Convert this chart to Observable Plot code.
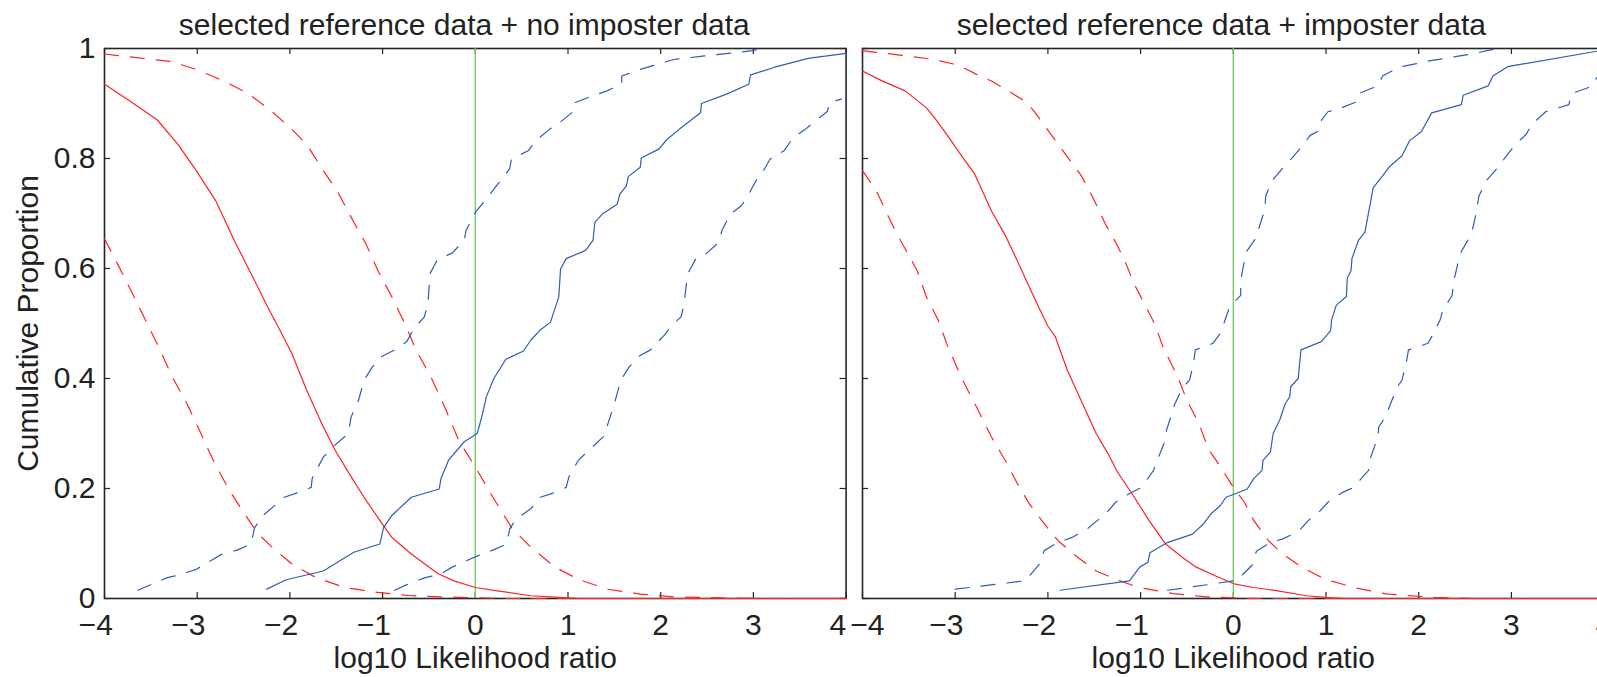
<!DOCTYPE html>
<html><head><meta charset="utf-8">
<script src="https://cdn.jsdelivr.net/npm/d3@7"></script>
<script src="https://cdn.jsdelivr.net/npm/@observablehq/plot@0.6"></script>
<style>
html,body{margin:0;padding:0;background:#fff;overflow:hidden;width:1597px;height:677px}
#wrap{position:relative;width:1597px;height:677px;overflow:hidden}
#wrap svg{position:absolute;top:0}
</style></head><body><div id="wrap"></div>
<script>
// ---- labels & ticks ----
const titles = ["selected reference data + no imposter data", "selected reference data + imposter data"];
const xLabel = "log10 Likelihood ratio";
const yLabel = "Cumulative Proportion";
const xTicks = [-4, -3, -2, -1, 0, 1, 2, 3, 4];
const xTickLabels = ["\u22124", "\u22123", "\u22122", "\u22121", "0", "1", "2", "3", "4"];
const yTicks = [0, 0.2, 0.4, 0.6, 0.8, 1];
const yTickLabels = ["0", "0.2", "0.4", "0.6", "0.8", "1"];
const threshold = [0];

// ---- left panel: no imposter data ----
const nRedSolid = [[-4,0.935],[-3.73,0.905],[-3.43,0.87],[-3.21,0.826],[-3.01,0.778],[-2.80,0.723],[-2.60,0.651],[-2.39,0.581],[-2.24,0.53],[-2.13,0.495],[-1.98,0.446],[-1.82,0.379],[-1.64,0.312],[-1.51,0.269],[-1.36,0.227],[-1.20,0.184],[-1.03,0.142],[-0.90,0.111],[-0.69,0.081],[-0.41,0.046],[-0.23,0.032],[0.0,0.020],[0.24,0.014],[0.60,0.005],[0.91,0.002],[1.11,0],[4,0]];
const nRedDashHi = [[-4,0.99],[-3.63,0.983],[-3.27,0.976],[-3.01,0.962],[-2.70,0.94],[-2.44,0.917],[-2.19,0.885],[-1.98,0.853],[-1.82,0.826],[-1.64,0.778],[-1.49,0.741],[-1.31,0.684],[-1.18,0.645],[-1.05,0.596],[-0.90,0.548],[-0.76,0.5],[-0.64,0.452],[-0.48,0.403],[-0.33,0.348],[-0.18,0.288],[0.0,0.239],[0.19,0.184],[0.39,0.129],[0.60,0.093],[0.86,0.057],[1.11,0.035],[1.42,0.017],[1.78,0.008],[2.14,0.003],[2.66,0.001],[3,0],[4,0]];
const nRedDashLo = [[-4,0.654],[-3.84,0.602],[-3.68,0.548],[-3.54,0.5],[-3.40,0.452],[-3.27,0.403],[-3.11,0.354],[-2.96,0.30],[-2.81,0.245],[-2.65,0.196],[-2.49,0.154],[-2.34,0.117],[-2.19,0.093],[-1.98,0.063],[-1.72,0.038],[-1.41,0.020],[-1.05,0.011],[-0.69,0.005],[-0.18,0.002],[0.3,0],[4,0]];
const nBlueSolid = [[-2.25,0.017],[-2.04,0.034],[-1.64,0.050],[-1.31,0.084],[-1.03,0.099],[-0.99,0.129],[-0.90,0.151],[-0.69,0.184],[-0.39,0.199],[-0.37,0.218],[-0.29,0.251],[-0.12,0.285],[0.02,0.300],[0.07,0.330],[0.12,0.367],[0.20,0.400],[0.33,0.435],[0.52,0.450],[0.60,0.470],[0.70,0.488],[0.81,0.502],[0.90,0.548],[0.92,0.599],[0.98,0.618],[1.19,0.633],[1.27,0.651],[1.29,0.684],[1.37,0.699],[1.53,0.717],[1.56,0.735],[1.63,0.750],[1.65,0.767],[1.78,0.784],[1.79,0.801],[1.98,0.817],[2.07,0.835],[2.20,0.853],[2.43,0.883],[2.44,0.900],[2.71,0.917],[2.95,0.935],[2.97,0.952],[3.23,0.966],[3.59,0.982],[4,0.991]];
const nBlueDashLo = [[-3.64,0.015],[-3.32,0.038],[-3.19,0.043],[-3.01,0.053],[-2.73,0.081],[-2.57,0.088],[-2.42,0.099],[-2.38,0.129],[-2.29,0.151],[-2.06,0.184],[-1.92,0.192],[-1.77,0.202],[-1.76,0.218],[-1.64,0.257],[-1.52,0.278],[-1.37,0.300],[-1.34,0.330],[-1.26,0.360],[-1.20,0.397],[-1.11,0.421],[-1.01,0.440],[-0.87,0.452],[-0.74,0.467],[-0.66,0.491],[-0.55,0.512],[-0.51,0.536],[-0.49,0.590],[-0.41,0.616],[-0.25,0.628],[-0.12,0.651],[-0.10,0.669],[0.0,0.702],[0.16,0.735],[0.24,0.753],[0.37,0.781],[0.39,0.799],[0.57,0.814],[0.65,0.832],[0.80,0.853],[0.93,0.868],[1.04,0.883],[1.05,0.900],[1.27,0.914],[1.42,0.923],[1.58,0.935],[1.58,0.950],[1.78,0.962],[2.14,0.980],[2.45,0.986],[2.99,0.996],[3.07,1.0]];
const nBlueDashHi = [[-0.87,0.015],[-0.69,0.029],[-0.54,0.038],[-0.38,0.044],[-0.25,0.057],[-0.12,0.067],[0.03,0.078],[0.19,0.088],[0.34,0.099],[0.37,0.126],[0.44,0.145],[0.60,0.163],[0.70,0.184],[0.83,0.191],[0.98,0.202],[1.01,0.221],[1.11,0.251],[1.24,0.272],[1.40,0.297],[1.42,0.312],[1.50,0.354],[1.57,0.397],[1.66,0.421],[1.76,0.440],[1.89,0.452],[2.04,0.479],[2.11,0.495],[2.22,0.512],[2.25,0.533],[2.29,0.590],[2.38,0.618],[2.49,0.627],[2.63,0.648],[2.66,0.669],[2.75,0.699],[2.87,0.714],[2.94,0.732],[3.02,0.757],[3.12,0.781],[3.18,0.799],[3.33,0.814],[3.43,0.838],[3.56,0.853],[3.69,0.871],[3.80,0.886],[3.82,0.902],[3.95,0.908]];

// ---- right panel: imposter data ----
const iRedSolid = [[-4,0.959],[-3.80,0.942],[-3.54,0.923],[-3.31,0.892],[-3.21,0.871],[-3.08,0.841],[-2.92,0.802],[-2.79,0.772],[-2.61,0.705],[-2.45,0.657],[-2.33,0.614],[-2.20,0.566],[-2.10,0.530],[-2.0,0.495],[-1.92,0.476],[-1.79,0.415],[-1.61,0.348],[-1.48,0.300],[-1.35,0.263],[-1.25,0.230],[-1.09,0.190],[-0.91,0.142],[-0.73,0.099],[-0.55,0.075],[-0.40,0.057],[-0.19,0.041],[0.02,0.026],[0.22,0.020],[0.48,0.014],[0.79,0.005],[0.99,0.002],[1.2,0],[4,0]];
const iRedDashHi = [[-4,0.996],[-3.64,0.989],[-3.23,0.980],[-2.97,0.970],[-2.77,0.953],[-2.61,0.941],[-2.40,0.920],[-2.23,0.902],[-2.15,0.886],[-2.02,0.856],[-1.89,0.826],[-1.76,0.796],[-1.64,0.769],[-1.56,0.744],[-1.48,0.717],[-1.38,0.681],[-1.27,0.648],[-1.17,0.614],[-1.07,0.572],[-0.96,0.536],[-0.85,0.50],[-0.76,0.458],[-0.60,0.403],[-0.50,0.360],[-0.37,0.318],[-0.27,0.272],[-0.16,0.245],[-0.01,0.205],[0.12,0.175],[0.22,0.142],[0.38,0.105],[0.53,0.081],[0.74,0.057],[0.99,0.035],[1.30,0.020],[1.66,0.008],[2.18,0.002],[2.6,0],[4,0]];
const iRedDashLo = [[-4,0.778],[-3.85,0.741],[-3.75,0.705],[-3.64,0.666],[-3.54,0.636],[-3.41,0.596],[-3.31,0.548],[-3.18,0.505],[-3.08,0.458],[-2.92,0.397],[-2.77,0.348],[-2.61,0.294],[-2.46,0.251],[-2.33,0.209],[-2.20,0.172],[-2.04,0.136],[-1.89,0.105],[-1.68,0.075],[-1.48,0.050],[-1.22,0.032],[-1.02,0.020],[-0.65,0.009],[-0.29,0.003],[0.2,0],[4,0]];
const iBlueSolid = [[-1.87,0.015],[-1.12,0.032],[-1.01,0.057],[-0.92,0.066],[-0.90,0.083],[-0.72,0.101],[-0.44,0.117],[-0.32,0.136],[-0.24,0.154],[-0.14,0.169],[-0.08,0.184],[0.0,0.189],[0.15,0.199],[0.22,0.218],[0.31,0.233],[0.32,0.251],[0.40,0.266],[0.43,0.300],[0.50,0.324],[0.56,0.354],[0.61,0.367],[0.62,0.385],[0.70,0.400],[0.73,0.452],[0.95,0.467],[1.05,0.487],[1.06,0.506],[1.11,0.533],[1.22,0.549],[1.23,0.583],[1.27,0.596],[1.28,0.618],[1.35,0.651],[1.42,0.666],[1.51,0.747],[1.60,0.766],[1.69,0.786],[1.82,0.805],[1.90,0.832],[2.03,0.849],[2.14,0.883],[2.46,0.898],[2.48,0.915],[2.75,0.932],[2.80,0.950],[2.96,0.967],[3.92,0.995],[4,0.998]];
const iBlueDashLo = [[-3.0,0.017],[-2.25,0.032],[-2.20,0.041],[-2.09,0.063],[-2.04,0.087],[-1.89,0.102],[-1.74,0.111],[-1.58,0.126],[-1.37,0.155],[-1.27,0.175],[-1.12,0.191],[-0.99,0.202],[-0.86,0.233],[-0.82,0.251],[-0.75,0.281],[-0.72,0.306],[-0.63,0.354],[-0.55,0.382],[-0.47,0.398],[-0.43,0.427],[-0.41,0.452],[-0.22,0.464],[-0.14,0.482],[-0.09,0.506],[-0.04,0.530],[0.08,0.551],[0.08,0.578],[0.12,0.615],[0.14,0.630],[0.25,0.657],[0.28,0.675],[0.34,0.708],[0.35,0.732],[0.42,0.760],[0.51,0.778],[0.64,0.802],[0.73,0.820],[0.83,0.842],[0.92,0.850],[0.93,0.865],[1.02,0.885],[1.15,0.891],[1.33,0.903],[1.35,0.918],[1.56,0.932],[1.61,0.950],[1.79,0.966],[2.13,0.978],[2.54,0.989],[2.82,0.999],[2.85,1.0]];
const iBlueDashHi = [[-0.71,0.015],[-0.24,0.026],[0.04,0.033],[0.08,0.040],[0.20,0.060],[0.22,0.069],[0.25,0.086],[0.40,0.102],[0.53,0.108],[0.71,0.123],[0.81,0.142],[0.94,0.160],[1.02,0.175],[1.18,0.193],[1.30,0.202],[1.41,0.224],[1.46,0.233],[1.47,0.251],[1.56,0.294],[1.57,0.312],[1.64,0.330],[1.72,0.364],[1.77,0.385],[1.82,0.397],[1.87,0.433],[1.89,0.452],[2.10,0.464],[2.15,0.479],[2.23,0.506],[2.26,0.524],[2.36,0.551],[2.38,0.578],[2.43,0.615],[2.46,0.631],[2.57,0.663],[2.61,0.693],[2.65,0.732],[2.73,0.760],[2.84,0.781],[2.93,0.801],[3.03,0.823],[3.16,0.844],[3.22,0.862],[3.37,0.885],[3.62,0.898],[3.65,0.918],[3.88,0.932],[3.92,0.947],[4,0.955]];

// ---- styling ----
const RED = "#ff2222", BLUE = "#2d5eb4", GREEN = "#6dc95b", AXIS = "#262626", TEXT = "#222222";
const FONT = "'Liberation Sans', Arial, Helvetica, sans-serif";
const FS = 30;
const DASH = "14,12";

const panels = [
  {title: titles[0], titleDx: -11, showY: true, svgLeft: 0, mL: 104, mR: 8, edge: "right",
   series: [
     {data: nRedSolid, color: RED, dash: false}, {data: nRedDashHi, color: RED, dash: true}, {data: nRedDashLo, color: RED, dash: true},
     {data: nBlueSolid, color: BLUE, dash: false}, {data: nBlueDashLo, color: BLUE, dash: true}, {data: nBlueDashHi, color: BLUE, dash: true}]},
  {title: titles[1], titleDx: -12, showY: false, svgLeft: 854.3, mL: 8, mR: 8, edge: "left",
   series: [
     {data: iRedSolid, color: RED, dash: false}, {data: iRedDashHi, color: RED, dash: true}, {data: iRedDashLo, color: RED, dash: true},
     {data: iBlueSolid, color: BLUE, dash: false}, {data: iBlueDashLo, color: BLUE, dash: true}, {data: iBlueDashHi, color: BLUE, dash: true}]}
];

const plotW = 741.6, plotTop = 48, plotBottom = 598, H = 677;
const wrap = document.getElementById("wrap");
const xMin = xTicks[0], xMax = xTicks[xTicks.length - 1];

for (const p of panels) {
  const innerH = plotBottom - plotTop;
  const tickTextBase = {x: d => d, frameAnchor: "bottom", dy: 36.5, lineAnchor: "bottom",
      text: (d, i) => xTickLabels[i], fontSize: FS, fill: TEXT};
  // the label at the shared edge between the panels is nudged as in the original
  const isEdge = d => (p.edge === "right" && d === xMax) || (p.edge === "left" && d === xMin);
  const marks = [
    Plot.frame({stroke: AXIS, strokeWidth: 1.6}),
    Plot.tickX(xTicks, {x: d => d, stroke: AXIS, strokeWidth: 1.2, insetTop: innerH - 6}),
    Plot.tickX(xTicks, {x: d => d, stroke: AXIS, strokeWidth: 1.2, insetBottom: innerH - 6}),
    Plot.tickY(yTicks, {y: d => d, stroke: AXIS, strokeWidth: 1.2, insetRight: plotW - 6}),
    Plot.tickY(yTicks, {y: d => d, stroke: AXIS, strokeWidth: 1.2, insetLeft: plotW - 6}),
    Plot.ruleX(threshold, {x: d => d, stroke: GREEN, strokeWidth: 1.3}),
    ...p.series.map(s => Plot.line(s.data, {x: d => d[0], y: d => d[1], stroke: s.color, strokeWidth: 1.2,
        strokeDasharray: s.dash ? DASH : null, curve: "linear"})),
    // non-negative labels: centred on tick
    Plot.text(xTicks, {...tickTextBase, filter: d => d >= 0 && !isEdge(d)}),
    // negative labels: digit centred on tick, minus sign hanging to the left
    Plot.text(xTicks, {...tickTextBase, filter: d => d < 0 && !isEdge(d), textAnchor: "end", dx: 8.3}),
    // shared-edge labels
    p.edge === "right"
      ? Plot.text(xTicks, {...tickTextBase, filter: d => isEdge(d), textAnchor: "end", dx: 0})
      : Plot.text(xTicks, {...tickTextBase, filter: d => isEdge(d), textAnchor: "start", dx: -12.3}),
    Plot.text([p.title], {frameAnchor: "top", dy: -13, dx: p.titleDx, lineAnchor: "bottom", text: d => d, fontSize: FS, fill: TEXT}),
    Plot.text([xLabel], {frameAnchor: "bottom", dy: 70, lineAnchor: "bottom", text: d => d, fontSize: FS, fill: TEXT})
  ];
  if (p.showY) {
    marks.push(Plot.text(yTicks, {y: d => d, frameAnchor: "left", dx: -9, textAnchor: "end",
        text: (d, i) => yTickLabels[i], fontSize: FS, fill: TEXT}));
    marks.push(Plot.text([yLabel], {frameAnchor: "left", rotate: -90, dx: -67, lineAnchor: "bottom", textAnchor: "middle",
        text: d => d, fontSize: FS, fill: TEXT}));
  }
  const svg = Plot.plot({
    width: p.mL + plotW + p.mR,
    height: H,
    marginTop: plotTop, marginBottom: H - plotBottom, marginLeft: p.mL, marginRight: p.mR,
    x: {domain: [-4, 4], axis: null},
    y: {domain: [0, 1], axis: null},
    style: {background: "transparent", overflow: "visible", maxWidth: "none", fontFamily: FONT, fontSize: FS + "px", color: TEXT},
    marks
  });
  svg.style.left = p.svgLeft + "px";
  wrap.appendChild(svg);
}
</script>
</body></html>
